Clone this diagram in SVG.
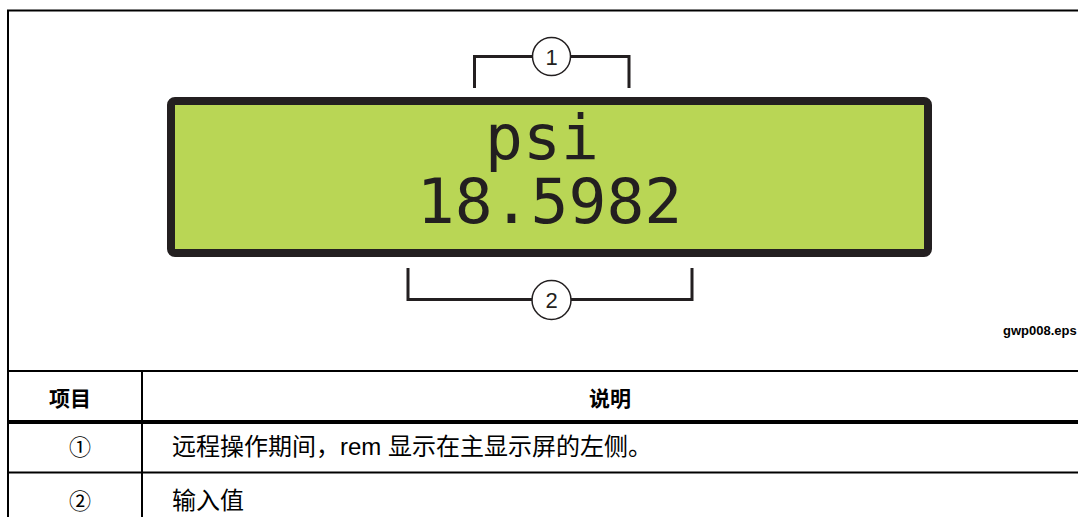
<svg xmlns="http://www.w3.org/2000/svg" width="1078" height="517" viewBox="0 0 1078 517">
<style>
.frame{stroke:#000;stroke-width:2;fill:none}
.thick{stroke:#000;stroke-width:4;fill:none}
.br{stroke:#231f20;stroke-width:3;fill:none;stroke-linecap:butt}
.circ{fill:#fff;stroke:#231f20;stroke-width:1.5}
.num{font-family:"Liberation Sans",Arial,sans-serif;font-size:22px;fill:#231f20;text-anchor:middle}
.lcdtxt{font-family:"DejaVu Sans Mono","Liberation Mono",monospace;font-size:63px;fill:#231f20;text-anchor:middle}
.hdr{font-family:"Liberation Sans","Noto Sans CJK SC",sans-serif;font-size:21px;font-weight:bold;fill:#000;text-anchor:middle}
.body{font-family:"Liberation Sans","Noto Sans CJK SC",sans-serif;font-size:24px;fill:#000}
.cnum{font-family:"Noto Sans CJK SC",sans-serif;font-size:22px;fill:#000;text-anchor:middle}
</style>
<rect width="1078" height="517" fill="#fff"/>
<g id="frame">
<path class="frame" d="M8 517 V10.5 H1078"/>
</g>
<g id="lcd">
<rect x="171" y="101" width="757" height="152" rx="4" fill="#b9d655" stroke="#231f20" stroke-width="8"/>
<text class="lcdtxt"><tspan x="542" y="159">psi</tspan><tspan x="549.5" y="222.5">18.5982</tspan></text>
</g>
<g id="connectors">
<path class="br" d="M474.5 88 V56.5 H533"/>
<path class="br" d="M570 56.5 H629 V88"/>
<path class="br" d="M408 268 V299.5 H533"/>
<path class="br" d="M570 299.5 H692 V268"/>
</g>
<g id="callout1">
<circle class="circ" cx="551.5" cy="56.5" r="19"/>
<text class="num" x="551.5" y="64.5">1</text>
</g>
<g id="callout2">
<circle class="circ" cx="551.5" cy="300" r="19.5"/>
<text class="num" x="551.5" y="308">2</text>
</g>
<g id="filename">
<text x="1003" y="335" font-family="Liberation Sans,Arial,sans-serif" font-size="13" font-weight="bold" fill="#000">gwp008.eps</text>
</g>
<g id="table">
<line class="frame" x1="8" y1="371" x2="1078" y2="371"/>
<line class="thick" x1="8" y1="422" x2="1078" y2="422"/>
<line class="frame" x1="8" y1="472.5" x2="1078" y2="472.5"/>
<line class="frame" x1="142" y1="371" x2="142" y2="517"/>
<text class="hdr" x="70" y="406">项目</text>
<text class="hdr" x="610" y="406">说明</text>
<text class="cnum" x="80" y="455">①</text>
<text class="body" x="172" y="455">远程操作期间，rem 显示在主显示屏的左侧。</text>
<text class="cnum" x="80" y="509">②</text>
<text class="body" x="172" y="509">输入值</text>
</g>
</svg>
